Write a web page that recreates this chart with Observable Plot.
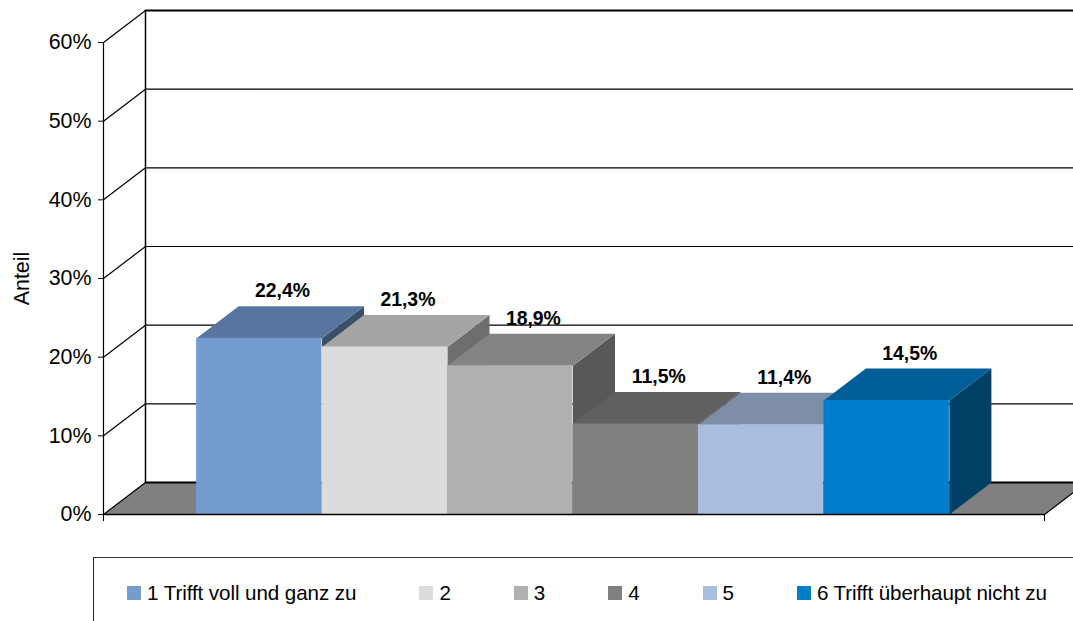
<!DOCTYPE html>
<html><head><meta charset="utf-8">
<script src="https://cdn.jsdelivr.net/npm/d3@7"></script>
<script src="https://cdn.jsdelivr.net/npm/@observablehq/plot@0.6"></script>
<style>
html,body{margin:0;padding:0;background:#fff;overflow:hidden;width:1073px;height:621px}
#chart svg{display:block}
#legend{position:absolute;left:93px;top:557px;width:1100px;height:100px;box-sizing:border-box;
 border-top:1.5px solid #333;border-left:1.5px solid #222;padding:19px 0 0 33px;display:flex;gap:63px;
 font:20.6px "Liberation Sans",Arial,sans-serif;color:#000;white-space:nowrap;letter-spacing:-.08px}
#legend .item{display:flex;align-items:center;gap:6px;height:32px}
#legend .sw{width:14px;height:14px;display:inline-block}
</style></head><body>
<div id="chart"></div>
<div id="legend"></div>
<script>
const categories = ["1 Trifft voll und ganz zu","2","3","4","5","6 Trifft überhaupt nicht zu"];
const values = [22.4,21.3,18.9,11.5,11.4,14.5];
const labels = ["22,4%","21,3%","18,9%","11,5%","11,4%","14,5%"];
const frontColors = ["#749CCF","#DCDCDC","#B0B0B0","#808080","#A9BDDF","#007ECC"];
const topColors = ["#57759E","#A5A5A5","#848484","#606060","#7F8EA7","#005F99"];
const sideColors = ["#3A4F6A","#6E6E6E","#585858","#404040","#555F70","#004066"];
const ticks = [0,10,20,30,40,50,60];

// category axis units: one unit per bar, with a gap at each end
const xSpan = 7.5, gap = 0.742;
// the 3D depth vector, in axis units
const dx = 0.3347, dy = 4.07;

const poly = [];
const add = (id, color, pts) => pts.forEach(([x,y]) => poly.push({id, color, x, y}));
values.forEach((v,i) => {
  const a = gap+i, b = a+1;
  add("side"+i, sideColors[i], [[b,0],[b+dx,dy],[b+dx,v+dy],[b,v]]);
  add("top"+i, topColors[i], [[a,v],[b,v],[b+dx,v+dy],[a+dx,v+dy]]);
});
const floor = [];
[[0,0],[xSpan,0],[xSpan+dx,dy],[dx,dy]].forEach(([x,y]) => floor.push({id:"floor",x,y}));
const bars = values.map((v,i) => ({x1:gap+i,x2:gap+i+1,v,color:frontColors[i],label:labels[i]}));
const diag = ticks.flatMap(t => [{t,x:0,y:t},{t,x:dx,y:t+dy}]);
const wall = ticks.flatMap(t => [{t,x:dx,y:t+dy},{t,x:xSpan+dx,y:t+dy}]);

const plot = Plot.plot({
  width:1073, height:545,
  marginLeft:103, marginRight:29, marginTop:42, marginBottom:31,
  x:{domain:[0,xSpan],axis:null},
  y:{domain:[0,60]},
  style:{fontFamily:'"Liberation Sans",Arial,sans-serif',background:"transparent",overflow:"visible"},
  marks:[
    Plot.line(floor,{x:"x",y:"y",z:"id",fill:"#808080",stroke:"none"}),
    // back wall grid
    Plot.line(wall.filter(d=>d.t!==0&&d.t!==60),{x:"x",y:"y",z:"t",stroke:"#000",strokeWidth:1.2}),
    Plot.line(wall.filter(d=>d.t===0||d.t===60),{x:"x",y:"y",z:"t",stroke:"#000",strokeWidth:1.8}),
    // side wall grid
    Plot.line(diag,{x:"x",y:"y",z:"t",stroke:"#000",strokeWidth:1.2}),
    Plot.ruleX([0],{y1:0,y2:60,stroke:"#000",strokeWidth:1.2}),
    Plot.ruleX([dx],{y1:dy,y2:60+dy,stroke:"#000",strokeWidth:1.5}),
    Plot.line(poly,{x:"x",y:"y",z:"id",fill:"color",stroke:"none"}),
    Plot.rect(bars,{x1:"x1",x2:"x2",y1:0,y2:"v",fill:"color"}),
    Plot.ruleY([0],{x1:0,x2:xSpan,stroke:"#000",strokeWidth:1.3}),
    Plot.line([{x:xSpan,y:0},{x:xSpan+dx,y:dy}],{x:"x",y:"y",stroke:"#000",strokeWidth:1.2}),
    Plot.ruleX([0,xSpan],{y1:0,y2:-0.9,stroke:"#000"}),
    Plot.axisY({ticks,tickFormat:d=>d+"%",tickSize:5,tickPadding:7,fontSize:21.4,stroke:"#000",
      label:"Anteil",labelAnchor:"center",labelArrow:"none",labelOffset:90}),
    Plot.text(bars,{x:d=>(d.x1+d.x2)/2+dx*0.55,y:d=>d.v+dy,text:"label",dy:-15,fontSize:19.4,fontWeight:"bold",fill:"#000"})
  ]
});
document.getElementById("chart").append(plot);

const leg = d3.select("#legend").selectAll("div").data(categories).join("div").attr("class","item");
leg.append("span").attr("class","sw").style("background",(d,i)=>frontColors[i]);
leg.append("span").text(d=>d);
</script>
</body></html>
